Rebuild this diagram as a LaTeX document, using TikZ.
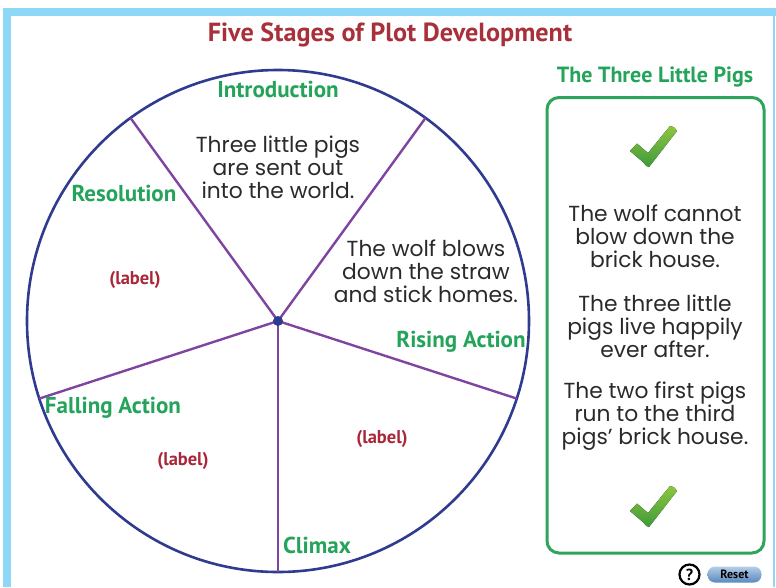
\documentclass[tikz,border=0pt]{standalone}
\usepackage{fontspec}
\setmainfont{PT Sans}
\newfontfamily\headfont{PT Sans}
\newfontfamily\bodyfont{Poppins}
\usetikzlibrary{calc}
\definecolor{frameblue}{HTML}{8ED8F7}
\definecolor{titlered}{HTML}{A8303A}
\definecolor{labelred}{HTML}{A8283A}
\definecolor{stagegreen}{HTML}{24A35A}
\definecolor{boxgreen}{HTML}{2EA55A}
\definecolor{wheelblue}{HTML}{2E3B8E}
\definecolor{spokepurple}{HTML}{7E44A0}
\definecolor{bodygray}{HTML}{2A2A2A}
\definecolor{checklight}{HTML}{8DC63F}
\definecolor{checkdark}{HTML}{3E9A3A}
\definecolor{btntop}{HTML}{B5CDE8}
\definecolor{btnbot}{HTML}{5A88BE}
\tikzset{
  stagelabel/.style={text=stagegreen, font=\headfont\bfseries\fontsize{23}{23}\selectfont, inner sep=0pt},
  redlabel/.style={text=labelred, font=\headfont\bfseries\fontsize{18.5}{18.5}\selectfont, inner sep=0pt},
  bodytext/.style={text=bodygray, align=center, inner sep=0pt, font=\bodyfont\fontsize{21.8}{23}\selectfont},
  spoke/.style={draw=spokepurple, line width=2.4pt},
  checkmark/.style={top color=checklight, bottom color=checkdark, draw=none},
}
\begin{document}
\begin{tikzpicture}[x=1pt,y=1pt]
\useasboundingbox (0,0) rectangle (776,-587);
% frame
\fill[frameblue] (2.7,-8) rectangle (776,-16);
\fill[frameblue] (2.7,-8) rectangle (10.7,-587);
\fill[frameblue] (772.5,-8) rectangle (775,-587);
% title
\node[text=titlered, font=\headfont\bfseries\fontsize{26.2}{26.2}\selectfont, inner sep=0pt] (title) at (390,-35) {Five Stages of Plot Development};
% wheel
\coordinate (c) at (278,-321);
\node[draw=wheelblue, line width=2.6pt, circle, minimum size=502pt, inner sep=0pt] (wheel) at (c) {};
\coordinate (s1) at ($(c)+(126:251)$);
\coordinate (s2) at ($(c)+(54:251)$);
\coordinate (s3) at ($(c)+(-18:251)$);
\coordinate (s4) at ($(c)+(-90:251)$);
\coordinate (s5) at ($(c)+(198:251)$);
\foreach \s in {s1,s2,s3,s4,s5} \draw[spoke] (c) -- (\s);
\node[circle, fill=wheelblue, minimum size=10pt, inner sep=0pt] (hub) at (c) {};
% stage labels
\node[stagelabel] (intro) at (278,-89) {Introduction};
\node[stagelabel] (resol) at (124,-193) {Resolution};
\node[stagelabel] (rising) at (461,-342) {Rising Action};
\node[stagelabel] (falling) at (113,-408) {Falling Action};
\node[stagelabel] (climax) at (317,-545) {Climax};
% red labels
\node[redlabel] (l1) at (135,-280) {(label)};
\node[redlabel] (l2) at (382,-439) {(label)};
\node[redlabel] (l3) at (183,-461) {(label)};
% wheel texts
\node[bodytext] (t1) at (278,-167) {Three little pigs\\are sent out\\into the world.};
\node[bodytext] (t2) at (426,-271) {The wolf blows\\down the straw\\and stick homes.};
% right panel
\node[stagelabel, font=\headfont\bfseries\fontsize{22}{22}\selectfont] (pigs) at (655,-77) {The Three Little Pigs};
\draw[boxgreen, line width=3pt, rounded corners=12pt] (547,-97.5) rectangle (764,-553);
\node[bodytext] (r1) at (655,-236) {The wolf cannot\\blow down the\\brick house.};
\node[bodytext] (r2) at (655,-326) {The three little\\pigs live happily\\ever after.};
\node[bodytext] (r3) at (655,-416) {The two first pigs\\run to the third\\pigs’ brick house.};
% checkmarks
\foreach \dy/\nm in {0/ck1,-360/ck2} {
  \begin{scope}[yshift=\dy]
  \fill[checkmark] (630,-151) -- (637,-143.5) -- (648,-153) -- (670,-126) .. controls (674,-127) .. (677,-131) -- (649,-167) .. controls (646,-166) .. (644,-163) -- cycle;
  \end{scope}
}
% help and reset
\node[circle, draw=black, line width=2.2pt, fill=white, minimum size=20pt, inner sep=0pt, font=\headfont\bfseries\fontsize{16}{16}\selectfont] (help) at (689.5,-574.5) {?};
\node[rounded corners=7.5pt, top color=btntop, bottom color=btnbot, minimum width=54pt, minimum height=16pt, inner sep=0pt, font=\headfont\bfseries\fontsize{12}{12}\selectfont] (reset) at (734.5,-574.5) {Reset};
\end{tikzpicture}
\end{document}
